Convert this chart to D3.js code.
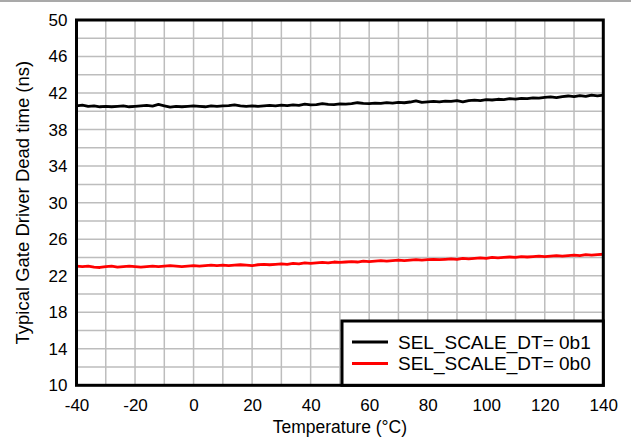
<!DOCTYPE html>
<html>
<head>
<meta charset="utf-8">
<script src="https://cdn.jsdelivr.net/npm/d3@7"></script>
<style>
  body { margin: 0; background: #fff; }
  text { font-family: "Liberation Sans", Arial, sans-serif; fill: #000; }
</style>
</head>
<body>
<div id="chart_area"></div>
<script>
var temps = d3.range(-40, 141, 2);

var dt0b1 = [
    40.6, 40.68, 40.55, 40.6, 40.5, 40.55, 40.5, 40.55, 40.6, 40.5,
    40.55, 40.6, 40.65, 40.58, 40.75, 40.6, 40.45, 40.55, 40.5, 40.55,
    40.6, 40.55, 40.5, 40.6, 40.55, 40.6, 40.62, 40.7, 40.6, 40.55,
    40.6, 40.55, 40.6, 40.65, 40.6, 40.68, 40.62, 40.7, 40.66, 40.78,
    40.7, 40.74, 40.84, 40.76, 40.74, 40.82, 40.78, 40.84, 40.94, 40.86,
    40.84, 40.9, 40.88, 40.95, 40.9, 40.98, 40.94, 41.02, 41.15, 40.98,
    41.04, 41.1, 41.04, 41.12, 41.08, 41.18, 41.04, 41.18, 41.22, 41.18,
    41.28, 41.24, 41.32, 41.28, 41.38, 41.34, 41.42, 41.38, 41.48, 41.44,
    41.52, 41.58, 41.5, 41.62, 41.68, 41.6, 41.72, 41.64, 41.78, 41.7,
    41.78
];

var dt0b0 = [
    23.05, 23.0, 23.05, 22.95, 22.9, 23.0, 23.05, 22.95, 23.0, 23.05,
    23.0, 22.95, 23.0, 23.05, 23.0, 23.05, 23.1, 23.05, 23.0, 23.05,
    23.1, 23.05, 23.1, 23.15, 23.1, 23.15, 23.1, 23.15, 23.2, 23.15,
    23.1, 23.2, 23.25, 23.2, 23.25, 23.3, 23.25, 23.35, 23.3, 23.4,
    23.35, 23.4, 23.45, 23.4, 23.5, 23.45, 23.5, 23.55, 23.5, 23.6,
    23.55, 23.6, 23.65, 23.6, 23.65, 23.7, 23.65, 23.7, 23.75, 23.7,
    23.75, 23.8, 23.75, 23.8, 23.85, 23.8, 23.9, 23.85, 23.9, 23.95,
    23.9, 24.0, 23.95, 24.0, 24.05, 24.0, 24.1, 24.05, 24.1, 24.15,
    24.1, 24.15, 24.2, 24.15, 24.2, 24.25, 24.2, 24.3, 24.25, 24.3,
    24.35
];

var seriesNames = ["SEL_SCALE_DT= 0b1", "SEL_SCALE_DT= 0b0"];
var colours = ["#000000", "#ff0000"];
var xTicks = [-40, -20, 0, 20, 40, 60, 80, 100, 120, 140];
var yTicks = [10, 14, 18, 22, 26, 30, 34, 38, 42, 46, 50];

var W = 631, H = 438;
var margin = { top: 20, right: 28, bottom: 53, left: 76.5 },
    width = 603.3 - margin.left,
    height = 385.3 - margin.top;

var svg = d3.select("#chart_area")
    .append("svg")
    .attr("width", W)
    .attr("height", H);

// thin rule along the top of the image
svg.append("line")
    .attr("x1", 0).attr("x2", W)
    .attr("y1", 1).attr("y2", 1)
    .attr("stroke", "#8c8c8c")
    .attr("stroke-width", 1.5);

var g = svg.append("g")
    .attr("transform", "translate(" + margin.left + "," + margin.top + ")");

var x = d3.scaleLinear().domain([-40, 140]).range([0, width]);
var y = d3.scaleLinear().domain([10, 50]).range([height, 0]);

// grid
g.append("g")
    .selectAll("line")
    .data(d3.range(-30, 140, 10))
    .enter().append("line")
    .attr("x1", function (d) { return x(d); })
    .attr("x2", function (d) { return x(d); })
    .attr("y1", 0).attr("y2", height)
    .attr("stroke", "#bdbdbd")
    .attr("stroke-width", 1.5);

g.append("g")
    .selectAll("line")
    .data(d3.range(12, 50, 2))
    .enter().append("line")
    .attr("y1", function (d) { return y(d); })
    .attr("y2", function (d) { return y(d); })
    .attr("x1", 0).attr("x2", width)
    .attr("stroke", "#bdbdbd")
    .attr("stroke-width", 1.5);

// axes (labels only)
var xAxis = g.append("g")
    .attr("transform", "translate(0," + height + ")")
    .call(d3.axisBottom(x).tickValues(xTicks).tickSize(0).tickPadding(14)
        .tickFormat(function (d) { return String(d); }));
xAxis.select(".domain").remove();
xAxis.selectAll("text")
    .style("font-size", "17px")
    .style("font-family", "Liberation Sans");

var yAxis = g.append("g")
    .call(d3.axisLeft(y).tickValues(yTicks).tickSize(0).tickPadding(9)
        .tickFormat(function (d) { return String(d); }));
yAxis.select(".domain").remove();
yAxis.selectAll("text")
    .style("font-size", "17px")
    .style("font-family", "Liberation Sans");

// lines
var line = d3.line()
    .x(function (d) { return x(d[0]); })
    .y(function (d) { return y(d[1]); });

[dt0b1, dt0b0].forEach(function (vals, i) {
    g.append("path")
        .datum(temps.map(function (t, j) { return [t, vals[j]]; }))
        .attr("fill", "none")
        .attr("stroke", colours[i])
        .attr("stroke-width", 2.8)
        .attr("stroke-linejoin", "round")
        .attr("d", line);
});

// frame
g.append("rect")
    .attr("width", width)
    .attr("height", height)
    .attr("fill", "none")
    .attr("stroke", "#000")
    .attr("stroke-width", 3);

// legend
var lg = g.append("g")
    .attr("transform", "translate(" + (342 - margin.left) + "," + (321 - margin.top) + ")");
lg.append("rect")
    .attr("width", 603.3 - 342)
    .attr("height", 385.3 - 321)
    .attr("fill", "#fff")
    .attr("stroke", "#000")
    .attr("stroke-width", 3);
seriesNames.forEach(function (name, i) {
    var ly = 21 + i * 21.5;
    lg.append("line")
        .attr("x1", 10).attr("x2", 46)
        .attr("y1", ly).attr("y2", ly)
        .attr("stroke", colours[i])
        .attr("stroke-width", 2.8);
    lg.append("text")
        .attr("x", 56)
        .attr("y", ly + 6.8)
        .style("font-size", "19px")
        .text(name);
});

// axis titles
svg.append("text")
    .attr("x", margin.left + width / 2)
    .attr("y", 433)
    .attr("text-anchor", "middle")
    .style("font-size", "17.5px")
    .text("Temperature (°C)");

svg.append("text")
    .attr("transform", "translate(29," + (margin.top + height / 2) + ") rotate(-90)")
    .attr("text-anchor", "middle")
    .style("font-size", "18.5px")
    .text("Typical Gate Driver Dead time (ns)");
</script>
</body>
</html>
